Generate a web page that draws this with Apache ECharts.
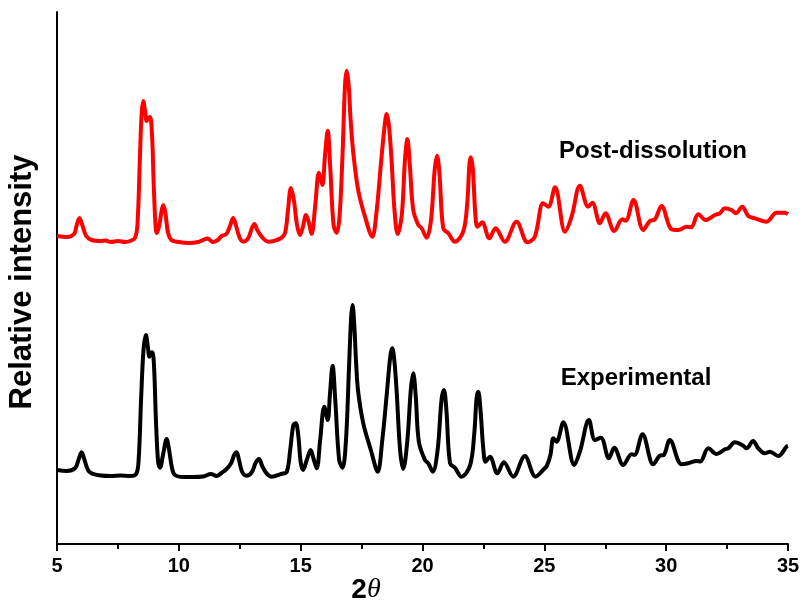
<!DOCTYPE html>
<html>
<head>
<meta charset="utf-8">
<script src="https://cdn.jsdelivr.net/npm/echarts@6/dist/echarts.min.js"></script>
<style>
  html, body { margin: 0; padding: 0; background: #fff; }
  #chart { width: 803px; height: 605px; }
</style>
</head>
<body>
<div id="chart"></div>
<script>
// Powder diffraction patterns: 2θ (degrees) and relative intensity (arbitrary units)

const postTheta = [
  5.0, 5.4, 5.7, 5.8, 5.92, 6.05, 6.2, 6.42, 6.8, 7.0, 7.2, 7.5, 7.8, 8.0, 8.2, 8.3, 8.4, 8.47, 8.54, 8.62,
  8.68, 8.75, 8.82, 8.9, 8.97, 9.05, 9.1, 9.2, 9.3, 9.36, 9.45, 9.55, 9.7, 10.0, 10.4, 10.8, 11.18, 11.4, 11.6, 11.76,
  11.95, 12.1, 12.23, 12.35, 12.5, 12.65, 12.85, 13.0, 13.1, 13.22, 13.4, 13.67, 13.9, 14.2, 14.36, 14.48, 14.6, 14.72, 14.85, 14.97,
  15.1, 15.22, 15.33, 15.45, 15.6, 15.75, 15.89, 16.0, 16.11, 16.22, 16.35, 16.48, 16.6, 16.72, 16.82, 16.89, 16.97, 17.05, 17.16, 17.36,
  17.64, 17.94, 18.1, 18.32, 18.45, 18.53, 18.62, 18.73, 18.85, 18.98, 19.15, 19.28, 19.38, 19.48, 19.62, 19.83, 19.96, 20.17, 20.35, 20.5,
  20.6, 20.7, 20.85, 21.06, 21.33, 21.67, 21.83, 21.93, 21.99, 22.07, 22.17, 22.26, 22.45, 22.74, 23.0, 23.38, 23.86, 24.31, 24.61, 24.95,
  25.16, 25.44, 25.85, 26.12, 26.46, 26.8, 26.97, 27.28, 27.51, 27.87, 28.2, 28.34, 28.66, 29.06, 29.33, 29.54, 29.81, 30.22, 30.5, 30.84,
  31.02, 31.32, 31.62, 32.0, 32.2, 32.41, 32.68, 32.86, 33.12, 33.37, 33.64, 34.12, 34.53, 34.87, 35.0
];
const postIntensity = [
  308, 307, 310, 318, 326, 318, 308, 304, 303, 303.5, 302, 303, 302, 303, 306, 319, 384, 429, 443, 432,
  423, 426, 427, 409, 359, 316, 311, 319, 334, 339, 331, 312, 304, 302, 301, 302, 305.5, 302, 304, 308,
  310, 318, 326, 318, 306, 302.3, 306, 316, 320, 314, 307.3, 302.3, 303, 306, 311, 334, 356, 344, 319, 309,
  318, 329, 322, 310, 339, 371.3, 359, 389, 413.3, 374, 319, 311.3, 329, 391, 459, 473.3, 459, 424, 391, 354,
  327.3, 307.3, 329, 387.3, 419, 430, 419, 384, 334, 310, 329, 384, 405, 379, 334, 319, 316, 306.3, 324, 374,
  388.3, 369, 315.7, 310.7, 302.3, 312.3, 339, 381, 386.7, 374, 329, 317.3, 321.7, 305.7, 315.7, 302.3, 322.3, 301.7, 307.3, 340.7,
  337.3, 356.7, 312.3, 327.3, 358.3, 337.3, 341.3, 320.7, 330.7, 313, 324.7, 323.3, 344, 314, 323, 324.7, 338, 314.7, 314, 317.3,
  316.7, 329.7, 324, 329, 330.7, 335.7, 334, 330.7, 337.3, 328, 325.7, 322.3, 331.3, 331.3, 330
];

const expTheta = [
  5.0, 5.4, 5.75, 5.88, 6.01, 6.13, 6.27, 6.42, 6.8, 7.2, 7.6, 8.0, 8.25, 8.35, 8.45, 8.55, 8.65, 8.73, 8.79, 8.85,
  8.91, 8.98, 9.06, 9.15, 9.23, 9.35, 9.5, 9.6, 9.72, 9.84, 10.2, 10.6, 11.0, 11.32, 11.55, 11.75, 11.96, 12.15, 12.27, 12.37,
  12.47, 12.6, 12.78, 13.0, 13.15, 13.29, 13.42, 13.6, 13.81, 14.2, 14.43, 14.57, 14.7, 14.8, 14.9, 15.0, 15.1, 15.25, 15.41, 15.52,
  15.66, 15.8, 15.97, 16.11, 16.2, 16.31, 16.42, 16.58, 16.72, 16.86, 16.98, 17.07, 17.13, 17.2, 17.28, 17.36, 17.57, 17.88, 18.16, 18.35,
  18.53, 18.68, 18.76, 18.85, 18.94, 19.08, 19.21, 19.38, 19.52, 19.62, 19.72, 19.85, 20.1, 20.24, 20.42, 20.62, 20.78, 20.88, 20.98, 21.13,
  21.33, 21.6, 21.95, 22.12, 22.22, 22.29, 22.38, 22.5, 22.59, 22.77, 23.07, 23.34, 23.72, 24.2, 24.64, 24.95, 25.1, 25.25, 25.37, 25.5,
  25.78, 26.23, 26.46, 26.83, 27.08, 27.32, 27.65, 27.87, 28.24, 28.58, 28.7, 29.03, 29.47, 29.74, 29.9, 30.15, 30.63, 30.9, 31.25, 31.4,
  31.73, 32.07, 32.41, 32.55, 32.82, 33.12, 33.3, 33.57, 33.78, 34.05, 34.26, 34.6, 34.94, 35.0
];
const expIntensity = [
  74, 73, 76, 84, 91.7, 84, 74, 70.7, 68.5, 68, 68.5, 68, 70, 84, 144, 194, 209, 197, 187.3, 191,
  191.7, 179, 124, 82, 76.3, 89, 105, 94, 76, 69, 67, 67, 67.5, 70, 68, 71, 75, 81, 89, 91.7,
  84, 72, 68.3, 72, 81, 85, 78, 70.7, 67.3, 70, 72.3, 94, 119, 120.7, 109, 82, 74, 84, 94, 86,
  75.7, 104, 137.3, 124, 149, 178.3, 144, 84, 76.3, 104, 174, 226, 239, 219, 179, 152.3, 120.7, 94, 72.3, 104,
  149, 188, 195.7, 182, 152.3, 94, 75, 104, 154, 170.7, 149, 102.3, 84, 80.7, 72.3, 94, 144, 154, 134, 80.7,
  76.3, 67.3, 78.3, 109, 146, 152.3, 134, 94, 82.3, 87.3, 70.7, 81.7, 67.3, 88, 67.3, 74, 78, 89, 105.7, 102.3,
  121.7, 79, 92.3, 124, 104, 106.3, 85.7, 96.3, 79, 89.7, 89, 109.7, 79.7, 88.3, 89, 104, 79.7, 80.7, 83, 82.5,
  95.7, 90, 94.7, 95.7, 101.7, 99, 95.7, 103, 95.7, 90.7, 92.3, 88, 97.3, 98
];

const xTicks = [5, 10, 15, 20, 25, 30, 35];
const seriesNames = ['Post-dissolution', 'Experimental'];

const pairs = (xs, ys) => xs.map((x, i) => [x, ys[i]]);

const chart = echarts.init(document.getElementById('chart'), null, { renderer: 'canvas' });

const fontSans = '"Liberation Sans", Arial, Helvetica, sans-serif';

chart.setOption({
  animation: false,
  backgroundColor: '#ffffff',
  grid: { left: 57, right: 15, top: 12, bottom: 61, containLabel: false },
  xAxis: {
    type: 'value',
    min: xTicks[0],
    max: xTicks[xTicks.length - 1],
    interval: 5,
    axisLine: { show: true, onZero: false, lineStyle: { color: '#000', width: 2 } },
    axisTick: { show: true, inside: false, length: 7, lineStyle: { color: '#000', width: 2 } },
    minorTick: { show: true, splitNumber: 2, length: 5, lineStyle: { color: '#000', width: 2 } },
    splitLine: { show: false },
    axisLabel: {
      color: '#000', fontFamily: fontSans, fontWeight: 'bold', fontSize: 20, margin: 12
    }
  },
  yAxis: {
    type: 'value',
    min: 0,
    max: 532,
    axisLine: { show: true, lineStyle: { color: '#000', width: 2 } },
    axisTick: { show: false },
    axisLabel: { show: false },
    splitLine: { show: false }
  },
  series: [
    {
      name: seriesNames[0],
      type: 'line',
      data: pairs(postTheta, postIntensity),
      showSymbol: false,
      smooth: 0.35,
      lineStyle: { color: '#ff0000', width: 4 },
      z: 3
    },
    {
      name: seriesNames[1],
      type: 'line',
      data: pairs(expTheta, expIntensity),
      showSymbol: false,
      smooth: 0.35,
      lineStyle: { color: '#000000', width: 4 },
      z: 3
    }
  ],
  graphic: [
    {
      type: 'text', x: 22, y: 282, rotation: Math.PI / 2,
      style: {
        text: 'Relative intensity', font: 'bold 31px ' + fontSans,
        fill: '#000', align: 'center', verticalAlign: 'middle'
      }
    },
    {
      type: 'text', x: 366, y: 590,
      style: {
        text: '{a|2}{b|θ}', fill: '#000', align: 'center', verticalAlign: 'middle',
        rich: {
          a: { fontFamily: fontSans, fontWeight: 'bold', fontSize: 28, fill: '#000' },
          b: { fontFamily: '"Liberation Serif", "Times New Roman", serif', fontStyle: 'italic', fontSize: 28, fill: '#000' }
        }
      }
    },
    {
      type: 'text', x: 653, y: 151,
      style: {
        text: seriesNames[0], font: 'bold 24px ' + fontSans,
        fill: '#000', align: 'center', verticalAlign: 'middle'
      }
    },
    {
      type: 'text', x: 636, y: 378,
      style: {
        text: seriesNames[1], font: 'bold 24px ' + fontSans,
        fill: '#000', align: 'center', verticalAlign: 'middle'
      }
    }
  ]
});
</script>
</body>
</html>
